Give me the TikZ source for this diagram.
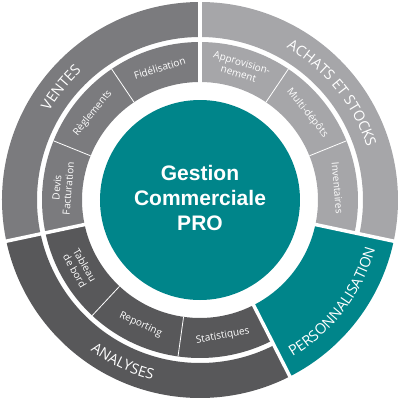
\documentclass[tikz,border=0pt]{standalone}
\usepackage{fontspec}
\setmainfont{Open Sans}
\newfontfamily\headfont{Liberation Sans}
\usetikzlibrary{decorations.text}

\definecolor{gcteal}{HTML}{00858A}
\definecolor{ventesgray}{HTML}{7B7B7E}
\definecolor{achatsgray}{HTML}{A6A6A9}
\definecolor{analysesgray}{HTML}{58585A}

\newcommand{\ringsector}[5]{%
  \fill[#5] (#1:#3) arc[start angle=#1, end angle=#2, radius=#3]
    -- (#2:#4) arc[start angle=#2, end angle=#1, radius=#4] -- cycle;}

\tikzset{
  sublabel/.style={text=white, font=\fontsize{10}{11.5}\selectfont, align=center, inner sep=0pt},
  bigsep/.style={white, line width=3.5pt},
  smallsep/.style={white, line width=0.8pt},
  arclabel/.style={decorate, decoration={text along path, text align=center, text color=white, text={|\fontsize{14.5}{14.5}\selectfont|#1}}}
}

\begin{document}
\begin{tikzpicture}
  \useasboundingbox (-200pt,-200pt) rectangle (200pt,200pt);
  \ringsector{90}{192}{163pt}{198pt}{ventesgray}
  \ringsector{90}{192}{118pt}{158pt}{ventesgray}
  \ringsector{-12}{90}{163pt}{198pt}{achatsgray}
  \ringsector{-12}{90}{118pt}{158pt}{achatsgray}
  \ringsector{192}{297}{163pt}{198pt}{analysesgray}
  \ringsector{192}{297}{118pt}{158pt}{analysesgray}
  \ringsector{297}{348}{118pt}{198pt}{gcteal}
  \fill[gcteal] (0,0) circle (100pt);
  \foreach \a in {90,192,297,348} \draw[bigsep] (\a:110pt) -- (\a:205pt);
  \foreach \a in {22,56,124,158,227,262} \draw[smallsep] (\a:118pt) -- (\a:158pt);

  \path[arclabel=VENTES] (192:175pt) arc[start angle=192, end angle=90, radius=175pt];
  \path[arclabel=ACHATS ET STOCKS] (90:175pt) arc[start angle=90, end angle=-12, radius=175pt];
  \path[arclabel=ANALYSES] (192:186pt) arc[start angle=192, end angle=297, radius=186pt];
  \path[arclabel=PERSONNALISATION] (297:182pt) arc[start angle=297, end angle=348, radius=182pt];

  \node (title) [font=\headfont\bfseries\fontsize{21}{25}\selectfont, text=white, align=center] at (0,2pt) {Gestion\\Commerciale\\PRO};
  \node (fidel) [sublabel, rotate=17] at (107:138pt) {Fidélisation};
  \node (regl) [sublabel, rotate=51] at (141:138pt) {Règlements};
  \node (devis) [sublabel, rotate=85] at (175:138pt) {Devis\\Facturation};
  \node (appro) [sublabel, rotate=-17] at (73:138pt) {Approvision-\\nement};
  \node (multi) [sublabel, rotate=-51] at (39:138pt) {Multi-dépôts};
  \node (invent) [sublabel, rotate=-85] at (5:138pt) {Inventaires};
  \node (tableau) [sublabel, rotate=-60] at (209.5:138pt) {Tableau\\de bord};
  \node (report) [sublabel, rotate=-25] at (244.5:138pt) {Reporting};
  \node (stats) [sublabel, rotate=10] at (279.5:138pt) {Statistiques};
\end{tikzpicture}
\end{document}
